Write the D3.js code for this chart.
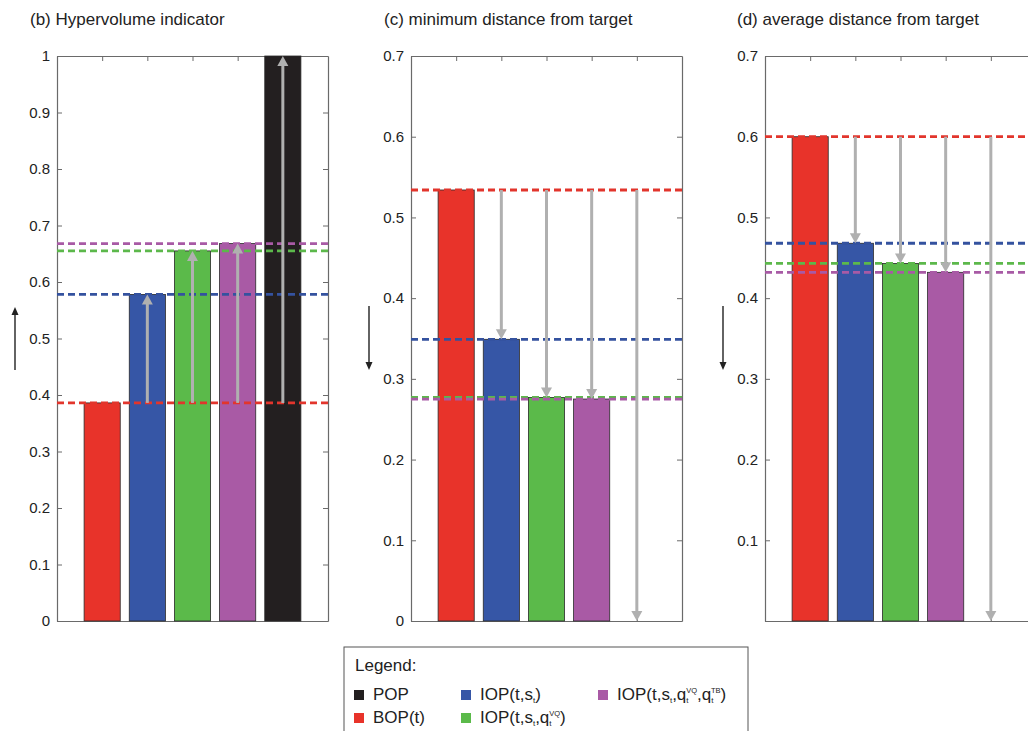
<!DOCTYPE html>
<html>
<head>
<meta charset="utf-8">
<script src="https://cdn.jsdelivr.net/npm/d3@7"></script>
<style>
  body { margin: 0; background: #fff; }
  svg text { font-family: "Liberation Sans", Arial, Helvetica, sans-serif; }
</style>
</head>
<body>
<svg id="chart" width="1028" height="731"></svg>
<script>
// Optimisation methods, in bar order
const methods = ["BOP(t)", "IOP(t,st)", "IOP(t,st,qtVQ)", "IOP(t,st,qtVQ,qtTB)", "POP"];
const methodColors = ["#e8332a", "#3656a6", "#5bba4a", "#a95aa5", "#231f20"];
const lineColors = ["#e2352c", "#34529f", "#5cb84b", "#a85aa5"];

// Indicator values per method
const hypervolume = [0.386, 0.578, 0.655, 0.668, 1.0];
const minDistance = [0.534, 0.349, 0.277, 0.275, 0];
const avgDistance = [0.600, 0.468, 0.443, 0.432, 0];

// Tick values and labels
const hypervolumeTicks = [0, 0.1, 0.2, 0.3, 0.4, 0.5, 0.6, 0.7, 0.8, 0.9, 1];
const hypervolumeTickLabels = ["0", "0.1", "0.2", "0.3", "0.4", "0.5", "0.6", "0.7", "0.8", "0.9", "1"];
const distanceTicks = [0, 0.1, 0.2, 0.3, 0.4, 0.5, 0.6, 0.7];
const minDistanceTickLabels = ["0", "0.1", "0.2", "0.3", "0.4", "0.5", "0.6", "0.7"];
const avgDistanceTickLabels = ["", "0.1", "0.2", "0.3", "0.4", "0.5", "0.6", "0.7"];
const categoryTicks = [1, 2, 3, 4, 5];

const svg = d3.select("#chart");
const plotTop = 56, plotBottom = 621, plotWidth = 271;
const axisColor = "#6a6a6a";
const arrowColor = "#b0b0b0";

const panels = [
  { title: "(b) Hypervolume indicator", titleX: 30, left: 57, values: hypervolume,
    ticks: hypervolumeTicks, labels: hypervolumeTickLabels, max: 1, better: "up" },
  { title: "(c) minimum distance from target", titleX: 384, left: 411, values: minDistance,
    ticks: distanceTicks, labels: minDistanceTickLabels, max: 0.7, better: "down" },
  { title: "(d) average distance from target", titleX: 737, left: 765, values: avgDistance,
    ticks: distanceTicks, labels: avgDistanceTickLabels, max: 0.7, better: "down" }
];

function styleAxis(g) {
  g.attr("font-family", null).attr("font-size", null);
  g.select(".domain").attr("stroke", axisColor).attr("stroke-width", 1.2);
  g.selectAll(".tick line").attr("stroke", axisColor).attr("stroke-width", 1);
  g.selectAll(".tick text").attr("fill", "#222").attr("font-size", 15);
}

// vertical arrow with a filled triangular head at (x, yTip)
function drawArrow(g, x, yTail, yTip, color, width, headLen, headHalf) {
  const dir = yTip < yTail ? -1 : 1;
  g.append("line")
    .attr("x1", x).attr("x2", x)
    .attr("y1", yTail).attr("y2", yTip - dir * headLen * 0.8)
    .attr("stroke", color).attr("stroke-width", width);
  g.append("path")
    .attr("d", `M${x},${yTip} L${x - headHalf},${yTip - dir * headLen} L${x + headHalf},${yTip - dir * headLen} Z`)
    .attr("fill", color);
}

panels.forEach(p => {
  const g = svg.append("g");
  const x = d3.scaleLinear().domain([0, 6]).range([p.left, p.left + plotWidth]);
  const y = d3.scaleLinear().domain([0, p.max]).range([plotBottom, plotTop]);

  g.append("text")
    .attr("x", p.titleX).attr("y", 25)
    .attr("font-size", 17).attr("fill", "#222")
    .text(p.title);

  // box axes with inward ticks
  g.append("g").attr("transform", `translate(${p.left},0)`)
    .call(d3.axisLeft(y).tickValues(p.ticks).tickFormat((d, i) => p.labels[i])
      .tickSize(-5).tickSizeOuter(0).tickPadding(7))
    .call(styleAxis);
  g.append("g").attr("transform", `translate(${p.left + plotWidth},0)`)
    .call(d3.axisRight(y).tickValues(p.ticks).tickFormat("").tickSize(-5).tickSizeOuter(0))
    .call(styleAxis);
  g.append("g").attr("transform", `translate(0,${plotTop})`)
    .call(d3.axisTop(x).tickValues(categoryTicks).tickFormat("").tickSize(-5).tickSizeOuter(0))
    .call(styleAxis);
  g.append("g").attr("transform", `translate(0,${plotBottom})`)
    .call(d3.axisBottom(x).tickValues(categoryTicks).tickFormat("").tickSize(-5).tickSizeOuter(0))
    .call(styleAxis);

  // bars
  g.selectAll("rect.bar")
    .data(p.values.map((v, i) => ({ v, i })).filter(d => d.v > 0))
    .join("rect")
    .attr("class", "bar")
    .attr("x", d => x(d.i + 1 - 0.4))
    .attr("width", x(0.8) - x(0))
    .attr("y", d => y(d.v))
    .attr("height", d => y(0) - y(d.v))
    .attr("fill", d => methodColors[d.i])
    .attr("stroke", "#2a2a2a").attr("stroke-width", 0.8);

  // dashed reference levels for BOP and IOP variants
  p.values.slice(0, 4).forEach((v, i) => {
    g.append("line")
      .attr("x1", p.left).attr("x2", p.left + plotWidth)
      .attr("y1", y(v)).attr("y2", y(v))
      .attr("stroke", lineColors[i]).attr("stroke-width", 2.8)
      .attr("stroke-dasharray", "7,4");
  });

  // improvement arrows from the BOP level to each other method
  p.values.slice(1).forEach((v, k) => {
    drawArrow(g, x(k + 2), y(p.values[0]), y(v), arrowColor, 3, 10, 5.5);
  });

  // direction of improvement
  const ax = p.left - 42;
  if (p.better === "up") drawArrow(g, ax, 370, 307, "#222", 1.4, 8, 3.5);
  else drawArrow(g, ax, 306, 370, "#222", 1.4, 8, 3.5);
});

// legend
const legend = svg.append("g");
legend.append("rect")
  .attr("x", 344).attr("y", 647).attr("width", 404).attr("height", 100)
  .attr("fill", "#fff").attr("stroke", "#555").attr("stroke-width", 1);
legend.append("text").attr("x", 355).attr("y", 671)
  .attr("font-size", 17).attr("fill", "#222").text("Legend:");

// label pieces: plain text, subscript, or stacked sub/superscript
const legendLabels = [
  [{ t: "POP" }],
  [{ t: "BOP(t)" }],
  [{ t: "IOP(t,s" }, { sub: "t" }, { t: ")" }],
  [{ t: "IOP(t,s" }, { sub: "t" }, { t: ",q" }, { sub: "t", sup: "VQ" }, { t: ")" }],
  [{ t: "IOP(t,s" }, { sub: "t" }, { t: ",q" }, { sub: "t", sup: "VQ" }, { t: ",q" }, { sub: "t", sup: "TB" }, { t: ")" }]
];
const legendColorIndex = [4, 0, 1, 2, 3];
const legendPos = [[354, 0], [354, 1], [461, 0], [461, 1], [598, 0]];
const rowBaseline = [700, 723];

legendLabels.forEach((pieces, k) => {
  const [lx, row] = legendPos[k];
  const by = rowBaseline[row];
  legend.append("rect")
    .attr("x", lx).attr("y", by - 10).attr("width", 10).attr("height", 10)
    .attr("fill", methodColors[legendColorIndex[k]]);
  const txt = legend.append("text")
    .attr("x", lx + 19).attr("y", by)
    .attr("font-size", 17).attr("fill", "#222");
  let offset = 0;
  pieces.forEach(pc => {
    if (pc.t !== undefined) {
      txt.append("tspan").attr("dy", -offset).text(pc.t);
      offset = 0;
    } else {
      txt.append("tspan").attr("dy", 3 - offset).attr("font-size", 8).text(pc.sub);
      offset = 3;
      if (pc.sup) {
        txt.append("tspan").attr("dx", -2.4).attr("dy", -10).attr("font-size", 7.5).text(pc.sup);
        offset = -7;
      }
    }
  });
});
</script>
</body>
</html>
